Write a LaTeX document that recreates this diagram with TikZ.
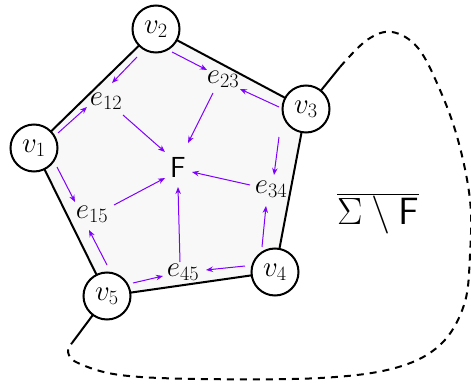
\RequirePackage{fix-cm}
\documentclass[tikz,border=0pt]{standalone}
\usetikzlibrary{arrows.meta}
\definecolor{arrpurple}{RGB}{127,0,255}
\definecolor{facefill}{RGB}{248,248,248}
\begin{document}
\begin{tikzpicture}[x=1pt,y=-1pt,
  vtx/.style={circle,draw=black,line width=2pt,fill=white,minimum size=47pt,inner sep=0pt,font=\fontsize{29}{34}\selectfont},
  lbl/.style={inner sep=0pt,font=\fontsize{29}{34}\selectfont},
  edgeln/.style={line width=2pt,black},
  arr/.style={arrpurple,line width=1pt,-{Stealth[length=7pt,width=5.5pt]}},
  loopln/.style={line width=2pt,black,dashed,dash pattern=on 7pt off 6pt}]
\useasboundingbox (0,0) rectangle (471,385);
% vertex positions
\coordinate (p1) at (34,148);
\coordinate (p2) at (156,29);
\coordinate (p3) at (306,109);
\coordinate (p4) at (275,272);
\coordinate (p5) at (107,296);
\fill[facefill] (p1) -- (p2) -- (p3) -- (p4) -- (p5) -- cycle;
% outer stubs and loop
\coordinate (c3) at (340,67);
\coordinate (c5) at (72,343);
\draw[edgeln] (p3) -- (c3);
\draw[edgeln] (p5) -- (c5);
\draw[loopln] plot[smooth,tension=0.6] coordinates {(340,67) (367,40) (392,32) (418,48) (440,90) (458,140) (470,200) (470,255) (464,305) (440,345) (395,368) (320,378) (200,379) (120,375) (78,363) (68,352) (72,343)};
% edges
\draw[edgeln] (p1) -- (p2) -- (p3) -- (p4) -- (p5) -- cycle;
% nodes
\node[vtx] (v1) at (p1) {$v_1$};
\node[vtx] (v2) at (p2) {$v_2$};
\node[vtx] (v3) at (p3) {$v_3$};
\node[vtx] (v4) at (p4) {$v_4$};
\node[vtx] (v5) at (p5) {$v_5$};
\node[lbl] (e12) at (106,101) {$e_{12}$};
\node[lbl] (e23) at (223,79) {$e_{23}$};
\node[lbl] (e34) at (271,189) {$e_{34}$};
\node[lbl] (e45) at (183,272) {$e_{45}$};
\node[lbl] (e15) at (92,214) {$e_{15}$};
\node[lbl] (F) at (178,167) {$\mathsf{F}$};
\node[inner sep=0pt,font=\fontsize{38}{44}\selectfont] (comp) at (378,214) {$\overline{\Sigma\setminus\mathsf{F}}$};
% arrows vertex -> edge
\draw[arr] ([shift={(-19,28)}]v2.center) -- ([shift={(6,-18)}]e12.center);
\draw[arr] ([shift={(24,-15)}]v1.center) -- ([shift={(-19,6)}]e12.center);
\draw[arr] ([shift={(16,23)}]v2.center) -- ([shift={(-16,-9)}]e23.center);
\draw[arr] ([shift={(-27,-2)}]v3.center) -- ([shift={(17,10)}]e23.center);
\draw[arr] ([shift={(-27,28)}]v3.center) -- ([shift={(3,-14)}]e34.center);
\draw[arr] ([shift={(-13,-25)}]v4.center) -- ([shift={(-5,17)}]e34.center);
\draw[arr] ([shift={(-30,-6)}]v4.center) -- ([shift={(23,-2)}]e45.center);
\draw[arr] ([shift={(26,-13)}]v5.center) -- ([shift={(-20,4)}]e45.center);
\draw[arr] ([shift={(0,-31)}]v5.center) -- ([shift={(-3,16)}]e15.center);
\draw[arr] ([shift={(23,19)}]v1.center) -- ([shift={(-17,-12)}]e15.center);
% arrows edge -> face
\draw[arr] ([shift={(17,14)}]e12.center) -- ([shift={(-13,-15)}]F.center);
\draw[arr] ([shift={(-10,14)}]e23.center) -- ([shift={(10,-24)}]F.center);
\draw[arr] ([shift={(-21,-4)}]e34.center) -- ([shift={(14,5)}]F.center);
\draw[arr] ([shift={(-3,-10)}]e45.center) -- ([shift={(0,20)}]F.center);
\draw[arr] ([shift={(22,-9)}]e15.center) -- ([shift={(-13,11)}]F.center);
\end{tikzpicture}
\end{document}
